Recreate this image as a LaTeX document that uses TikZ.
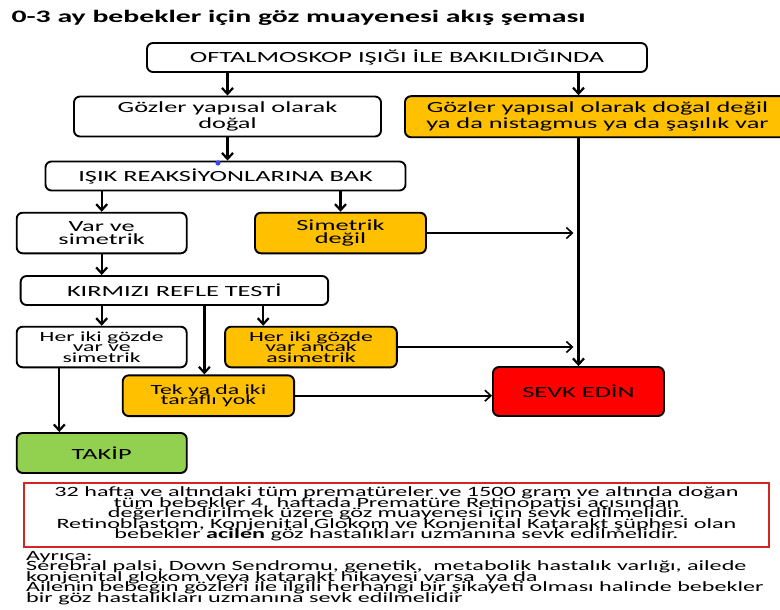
\documentclass[tikz,border=0pt]{standalone}
\usepackage{fontspec}
\setmainfont{Carlito}[FakeStretch=1.7]
\usetikzlibrary{arrows.meta}
\definecolor{boxorange}{HTML}{FFC000}
\definecolor{boxred}{HTML}{FF0000}
\definecolor{boxgreen}{HTML}{92D050}
\definecolor{framered}{HTML}{D42424}
\newcommand{\setsize}[2]{\fontsize{#1}{#2}\selectfont\lineskiplimit=-100pt\relax}
\begin{document}
\begin{tikzpicture}[x=1pt, y=-1pt,
	box/.style={draw=black, line width=1.9pt, rounded corners=6pt, align=center, inner sep=1pt, font=\setsize{15.5}{16}},
	tight/.style={font=\setsize{15.5}{13}},
	tighter/.style={font=\setsize{14}{10.2}},
	arr/.style={line width=2.2pt, -{Straight Barb[length=6pt,width=11pt]}},
	side/.style={line width=1.6pt, -{Straight Barb[length=6pt,width=11pt]}}]

	\clip (0,0) rectangle (780,610);
	\fill[white] (0,0) rectangle (780,610);

	\node[anchor=base west, font=\bfseries\fontsize{17.5}{20}\selectfont] (title) at (8,22.7) {0-3 ay bebekler için göz muayenesi akış şeması};

	\node[box, minimum width=500, minimum height=29] (oftal) at (397,57.5) {OFTALMOSKOP IŞIĞI İLE BAKILDIĞINDA};
	\node[box, minimum width=307, minimum height=40] (dogal) at (227.5,116.5) {Gözler yapısal olarak\\doğal};
	\node[box, fill=boxorange, minimum width=385, minimum height=41] (degil) at (597.5,116.7) {Gözler yapısal olarak doğal değil\\ya da nistagmus ya da şaşılık var};
	\node[box, minimum width=360, minimum height=29] (isik) at (225.5,176) {IŞIK REAKSİYONLARINA BAK};
	\node[box, tight, minimum width=170, minimum height=40.6] (varsim) at (101.7,233) {Var ve\\simetrik};
	\node[box, tight, fill=boxorange, minimum width=171, minimum height=40.6] (simdegil) at (340.5,233) {Simetrik\\değil};
	\node[box, minimum width=307.5, minimum height=29] (kirmizi) at (174.4,290.5) {KIRMIZI REFLE TESTİ};
	\node[box, tighter, minimum width=170, minimum height=40.6] (heriki) at (101.7,347) {Her iki gözde\\var ve\\simetrik};
	\node[box, tighter, fill=boxorange, minimum width=171.7, minimum height=40.6] (asim) at (311,347) {Her iki gözde\\var ancak\\asimetrik};
	\node[box, tighter, fill=boxorange, minimum width=171.3, minimum height=40.7] (yok) at (208.4,395.7) {Tek ya da iki\\taraflı yok};
	\node[box, fill=boxgreen, minimum width=170, minimum height=40] (takip) at (101.7,453) {TAKİP};
	\node[box, fill=boxred, minimum width=171, minimum height=49] (sevk) at (578.5,391.5) {SEVK EDİN};

	\fill[blue!75!white] (218,163) circle (2.6);

	\draw[arr] (oftal.south -| dogal) -- (dogal.north);
	\draw[arr] (oftal.south -| sevk) -- (degil.north -| sevk);
	\draw[arr] (dogal.south) -- (dogal.south |- isik.north);
	\draw[arr] (isik.south -| varsim) -- (varsim.north);
	\draw[arr] (isik.south -| simdegil) -- (simdegil.north);
	\draw[arr] (varsim.south) -- (varsim.south |- kirmizi.north);
	\draw[arr] (kirmizi.south -| heriki) -- (heriki.north);
	\draw[arr] ([xshift=-4]yok.north |- kirmizi.south) -- ([xshift=-4]yok.north);
	\draw[arr] ([xshift=39]asim.north west |- kirmizi.south) -- ([xshift=39]asim.north west);
	\draw[arr] ([xshift=-42.4]heriki.south) -- ([xshift=-42.4]heriki.south |- takip.north);
	\draw[arr] (degil.south -| sevk) -- (sevk.north);

	\draw[side, shorten >=5] (simdegil.east) -- (simdegil.east -| sevk);
	\draw[side, shorten >=5] (asim.east) -- (asim.east -| sevk);
	\draw[side] (yok.east) -- (yok.east -| sevk.west);

	\node[draw=framered, line width=1.6pt, minimum width=745, minimum height=64, inner sep=0pt] (uyari) at (396.5,515) {};
	\node[align=center, inner sep=0pt, font=\setsize{14.2}{10.6}] (uyarimetin) at (396.5,514) {32 hafta ve altındaki tüm prematüreler ve 1500 gram ve altında doğan\\tüm bebekler 4. haftada Prematüre Retinopatisi açısından\\değerlendirilmek üzere göz muayenesi için sevk edilmelidir.\\Retinoblastom, Konjenital Glokom ve Konjenital Katarakt şüphesi olan\\bebekler \textbf{acilen} göz hastalıkları uzmanına sevk edilmelidir.};

	\node[anchor=west, inner sep=0pt, align=left, font=\setsize{14.2}{10.6}] (ayrica) at (26,578) {Ayrıca:\\Serebral palsi, Down Sendromu, genetik,~ metabolik hastalık varlığı, ailede\\konjenital glokom veya katarakt hikayesi varsa~ ya da\\Ailenin bebeğin gözleri ile ilgili herhangi bir şikayeti olması halinde bebekler\\bir göz hastalıkları uzmanına sevk edilmelidir};

\end{tikzpicture}
\end{document}
